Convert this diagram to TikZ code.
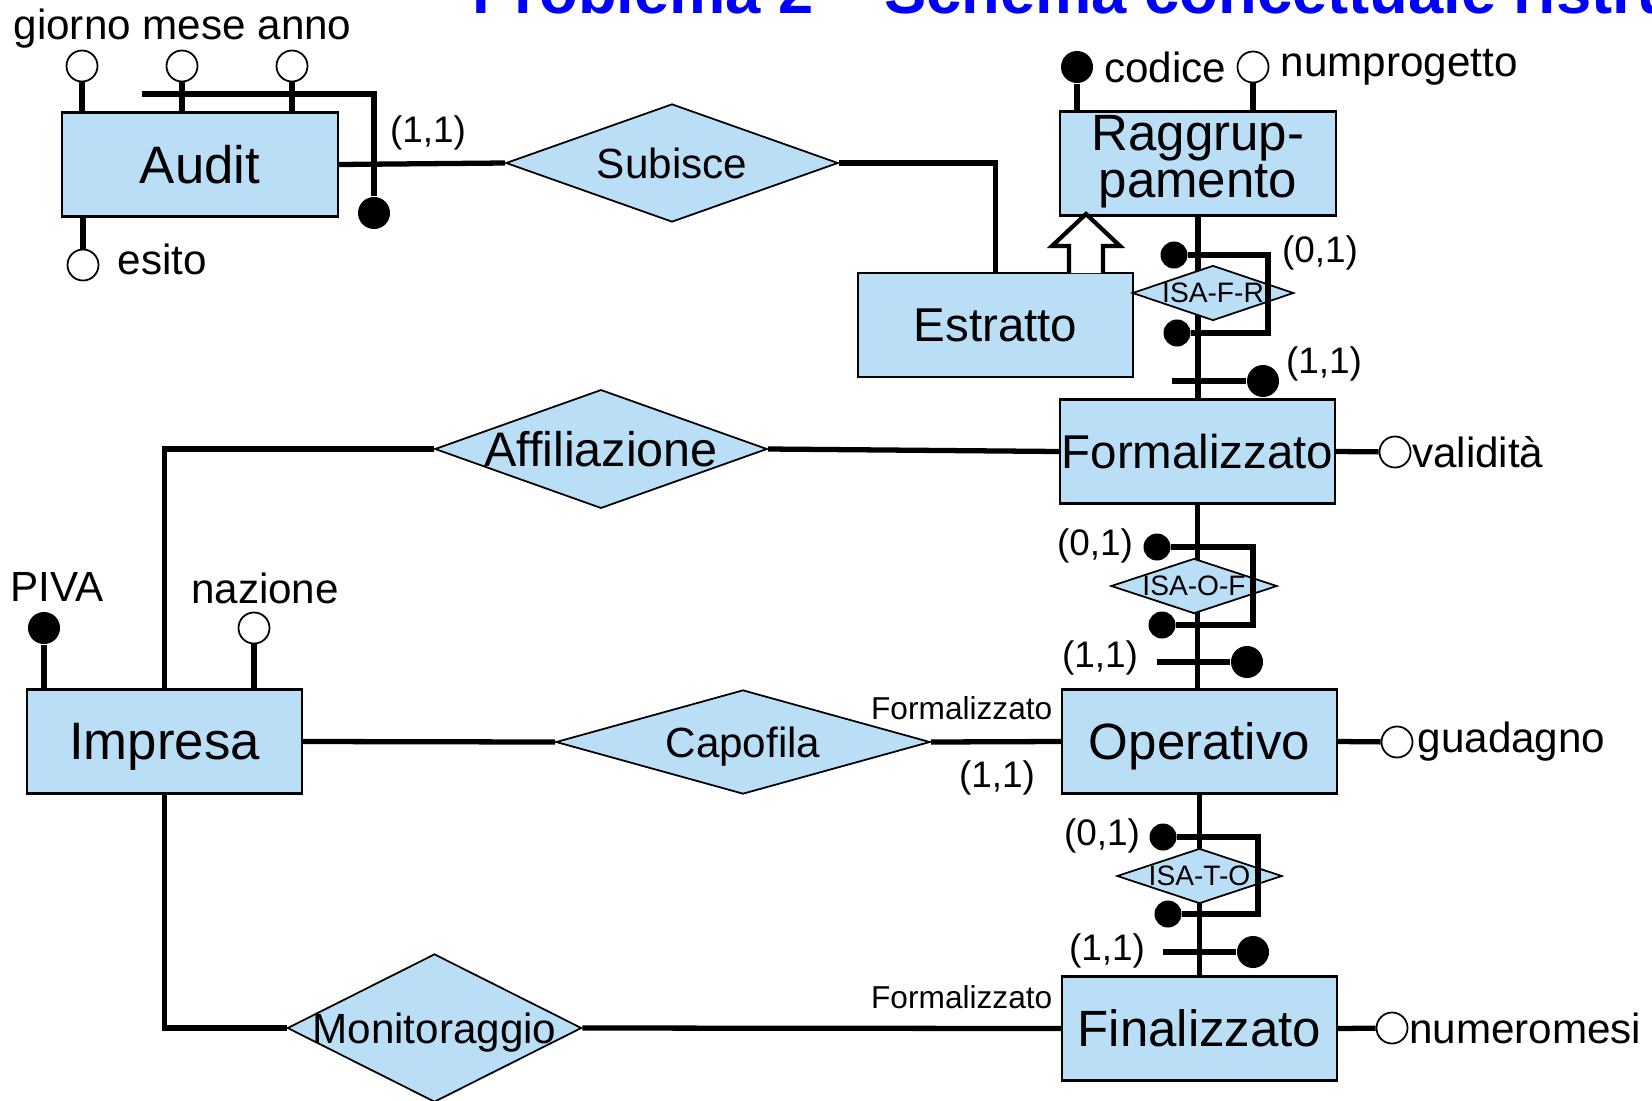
\documentclass[tikz,border=0pt]{standalone}
\usepackage{fontspec}
\setmainfont{Liberation Sans}
\usepackage{tikz}
\usetikzlibrary{shapes.geometric,positioning}

\definecolor{erfill}{RGB}{187,222,247}
\definecolor{titleblue}{RGB}{0,0,255}

\begin{document}
\begin{tikzpicture}[x=0.01cm, y=-0.01cm,
    every node/.style={font=\fontsize{12}{14}\selectfont, inner sep=0pt},
    entity/.style={draw, line width=0.6pt, fill=erfill, minimum width=2.75cm, minimum height=1.04cm, text depth=0pt, font=\fontsize{14.5}{16}\selectfont},
    relation/.style={diamond, draw, line width=0.5pt, fill=erfill, shape aspect=2.8, text depth=0pt},
    isarel/.style={diamond, draw, line width=0.5pt, fill=erfill, minimum height=0.55cm, shape aspect=3, font=\fontsize{8}{9}\selectfont},
    attr/.style={circle, draw, line width=0.5pt, fill=white, minimum size=0.31cm},
    bigdot/.style={circle, fill=black, minimum size=0.32cm},
    smalldot/.style={circle, fill=black, minimum size=0.27cm},
    link/.style={line width=1.5pt},
    card/.style={font=\fontsize{10.5}{12}\selectfont},
    role/.style={font=\fontsize{9}{10}\selectfont, anchor=east}]

    % 画布大小
    \path[use as bounding box, fill=white] (0,0) rectangle (1652,1100);
    \clip (0,0) rectangle (1652,1100);

    % 标题 (上边被截掉)
    \node[anchor=base west, text=titleblue, font=\bfseries\fontsize{18}{20}\selectfont] (title) at (472,13) {Problema 2 – Schema concettuale ristrutturato};

    % 实体
    \node[entity, font=\fontsize{15}{17}\selectfont] (audit) at (200,164.5) {Audit};
    \node[entity, align=center, text depth=0.15cm, font=\fontsize{14.5}{12}\selectfont] (ragg) at (1198,163.5) {Raggrup-\\pamento};
    \node[entity, font=\fontsize{13.5}{16}\selectfont] (estratto) at (995.5,325) {Estratto};
    \node[entity, font=\fontsize{13.5}{16}\selectfont] (form) at (1197.5,451.5) {Formalizzato};
    \node[entity, font=\fontsize{15}{17}\selectfont] (impresa) at (164.5,741.5) {Impresa};
    \node[entity] (oper) at (1199.5,741.5) {Operativo};
    \node[entity] (fin) at (1199.5,1028.5) {Finalizzato};

    % 关系
    \node[relation, minimum width=3.32cm, minimum height=1.18cm] (subisce) at (672,163) {Subisce};
    \node[relation, minimum width=3.32cm, minimum height=1.17cm, font=\fontsize{13.8}{15}\selectfont] (affil) at (601,449) {Affiliazione};
    \node[relation, minimum width=3.74cm, minimum height=1.04cm, shape aspect=3.6] (capofila) at (743,742) {Capofila};
    \node[relation, minimum width=2.94cm, minimum height=1.48cm, shape aspect=2, inner xsep=-0.3cm] (monit) at (434.5,1028) {Monitoraggio};

    % Audit 的属性和标识
    \node[attr] (giorno) at (82,66) {};
    \node[attr] (mese) at (182,66) {};
    \node[attr] (anno) at (292,66) {};
    \node[attr] (esito) at (83,265) {};
    \node[bigdot] (auditkey) at (374,213) {};
    \coordinate (auditkeystart) at (142,94);
    \node[anchor=base west] (datelbl) at (13,39) {giorno mese anno};
    \node[right=5pt of esito, yshift=0.06cm] (esitolbl) {esito};
    \draw[link] (giorno) -- (giorno |- audit.north);
    \draw[link] (mese) -- (mese |- audit.north);
    \draw[link] (anno) -- (anno |- audit.north);
    \draw[link] (esito) -- (esito |- audit.south);
    \draw[link] (auditkeystart) -| (auditkey);

    % Subisce
    \draw[link] (audit.east) -- (subisce.west);
    \draw[link] (subisce.east) -| (estratto.north);
    \node[card] (c1) at (428,133) {(1,1)};

    % Raggruppamento 的属性
    \node[bigdot] (codice) at (1077,67) {};
    \node[attr] (numprog) at (1253,67) {};
    \node[right=2.8pt of codice] (codicelbl) {codice};
    \node[right=3pt of numprog] (numproglbl) {numprogetto};
    \draw[link] (codice) -- (codice |- ragg.north);
    \draw[link] (numprog) -- (numprog |- ragg.north);

    % Estratto -> Raggruppamento (空心箭头)
    \draw[line width=1.2pt, fill=white] (1069,273) -- (1069,246) -- (1052,246) -- (1086,214) -- (1120,246) -- (1103,246) -- (1103,273);

    % 竖线
    \draw[link] (ragg.south) -- (ragg.south |- form.north);
    \draw[link] (form.south) -- (form.south |- oper.north);
    \draw[link] (oper.south) -- (oper.south |- fin.north);

    % ISA 菱形
    \node[isarel, minimum width=1.58cm] (isafr) at (1213,293) {ISA-F-R};
    \node[isarel, minimum width=1.66cm] (isaof) at (1194,586) {ISA-O-F};
    \node[isarel, minimum width=1.65cm] (isato) at (1199.5,876) {ISA-T-O};

    % 1. ISA-F-R
    \node[smalldot] (frtop) at (1174,255) {};
    \node[smalldot] (frbot) at (1177,333) {};
    \coordinate (frcorner) at (1268,293);
    \draw[link] (frtop) -| (frcorner) |- (frbot);
    \coordinate (frstub) at (1172,381);
    \node[bigdot] (frdot) at (1263,381) {};
    \draw[link] (frstub) -- (frdot);
    \node[card] (c2) at (1320,253) {(0,1)};
    \node[card] (c3) at (1324,364) {(1,1)};

    % 2. ISA-O-F
    \node[smalldot] (oftop) at (1157,547) {};
    \node[smalldot] (ofbot) at (1162,625) {};
    \coordinate (ofcorner) at (1253,586);
    \draw[link] (oftop) -| (ofcorner) |- (ofbot);
    \coordinate (ofstub) at (1157,662);
    \node[bigdot] (ofdot) at (1247,662) {};
    \draw[link] (ofstub) -- (ofdot);
    \node[card] (c4) at (1095,546) {(0,1)};
    \node[card] (c5) at (1100,658) {(1,1)};

    % 3. ISA-T-O
    \node[smalldot] (totop) at (1163,837) {};
    \node[smalldot] (tobot) at (1168,914) {};
    \coordinate (tocorner) at (1258,876);
    \draw[link] (totop) -| (tocorner) |- (tobot);
    \coordinate (tostub) at (1163,952);
    \node[bigdot] (todot) at (1253,952) {};
    \draw[link] (tostub) -- (todot);
    \node[card] (c6) at (1102,836) {(0,1)};
    \node[card] (c7) at (1107,951) {(1,1)};

    % 右边的属性
    \node[attr] (validita) at (1395,452) {};
    \node[attr] (guadagno) at (1397,742) {};
    \node[attr] (numeromesi) at (1392,1028) {};
    \node[right=0pt of validita] (validitalbl) {validità};
    \node[right=1pt of guadagno] (guadagnolbl) {guadagno};
    \node[right=0pt of numeromesi] (numeromesilbl) {numeromesi};
    \draw[link] (form.east) -- (validita);
    \draw[link] (oper.east) -- (guadagno);
    \draw[link] (fin.east) -- (numeromesi);

    % Impresa 的属性
    \node[bigdot] (piva) at (44,628) {};
    \node[attr] (nazione) at (254,628) {};
    \node (pivalbl) at (57,587) {PIVA};
    \node (nazionelbl) at (265,588) {nazione};
    \draw[link] (piva) -- (piva |- impresa.north);
    \draw[link] (nazione) -- (nazione |- impresa.north);

    % Impresa 的关系
    \draw[link] (affil.west) -| (impresa.north);
    \draw[link] (affil.east) -- (form.west);
    \draw[link] (impresa.east) -- (capofila.west);
    \draw[link] (capofila.east) -- (oper.west);
    \draw[link] (impresa.south) |- (monit.west);
    \draw[link] (monit.east) -- (fin.west);
    \node[role] (r1) at (1053,708) {Formalizzato};
    \node[role] (r2) at (1053,997) {Formalizzato};
    \node[card] (c8) at (997,778) {(1,1)};

\end{tikzpicture}
\end{document}
